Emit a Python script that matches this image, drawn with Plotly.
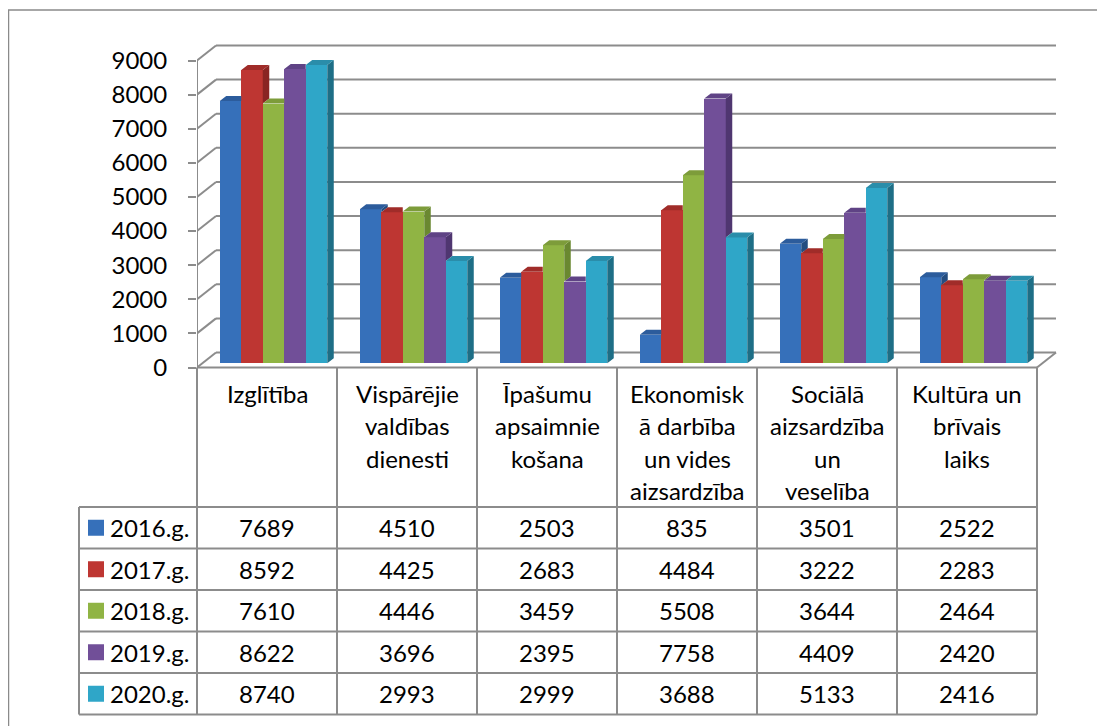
import plotly.graph_objects as go

# ---------------- data ----------------
categories = [
    "Izglītība",
    "Vispārējie<br>valdības<br>dienesti",
    "Īpašumu<br>apsaimnie<br>košana",
    "Ekonomisk<br>ā darbība<br>un vides<br>aizsardzība",
    "Sociālā<br>aizsardzība<br>un<br>veselība",
    "Kultūra un<br>brīvais<br>laiks",
]
series_names = ["2016.g.", "2017.g.", "2018.g.", "2019.g.", "2020.g."]
v2016 = [7689, 4510, 2503, 835, 3501, 2522]
v2017 = [8592, 4425, 2683, 4484, 3222, 2283]
v2018 = [7610, 4446, 3459, 5508, 3644, 2464]
v2019 = [8622, 3696, 2395, 7758, 4409, 2420]
v2020 = [8740, 2993, 2999, 3688, 5133, 2416]
series_values = [v2016, v2017, v2018, v2019, v2020]
y_ticks = [0, 1000, 2000, 3000, 4000, 5000, 6000, 7000, 8000, 9000]

# ---------------- styling / geometry ----------------
front_colors = ["#3670BA", "#BE3632", "#90B444", "#714F98", "#2FA6C8"]
side_colors = ["#244D80", "#8A2523", "#6A8830", "#4F3670", "#1E6E86"]
top_colors = ["#2C5C9C", "#A02C29", "#7D9C3A", "#5F4385", "#2A8DAA"]

OFF = 8                       # page body margin
W, H = 1105 - OFF, 726 - OFF  # figure size
AX = 197                      # page px of front axis
ML = AX - OFF                 # plot area left edge in figure px
XPX = 140.0                   # px per category
Y0PX = 367.5 - OFF            # figure px of value 0
YS = 307.0 / 9000.0           # px per value unit
x_range = [-0.5, -0.5 + (W - ML) / XPX]
y_range = [-(H - Y0PX) / YS, Y0PX / YS]

DX = 19 / XPX                 # full depth offset (x)
DY = 15 / YS                  # full depth offset (y)
B = 4.3 / YS                  # bar front face base lift
BW = 21.5 / XPX               # bar width
BOFF = 6.5 / XPX              # group shift due to depth
ddx = 6.5 / XPX               # bar depth (x)
ddy = 5.0 / YS                # bar depth (y)

GRID = "#8C8C8C"
FONT = "Lato"
FS = 24


def pxx(px):
    """page px -> paper x"""
    return (px - OFF - ML) / (W - ML)


def pxy(py):
    """page px -> paper y"""
    return 1 - (py - OFF) / H


fig = go.Figure()

n_cat = len(categories)
n_ser = len(series_names)
offsets = [(k - (n_ser - 1) / 2) * BW + BOFF for k in range(n_ser)]

# front faces
for k in range(n_ser):
    fig.add_trace(go.Bar(
        x=[i + offsets[k] for i in range(n_cat)],
        y=series_values[k],
        base=B,
        width=BW,
        name=series_names[k],
        marker=dict(color=front_colors[k], line=dict(width=0)),
        hoverinfo="y+name",
    ))

# side and top faces (3D effect)
for k in range(n_ser):
    sx, sy, tx, ty = [], [], [], []
    for i in range(n_cat):
        v = series_values[k][i]
        x0 = i + offsets[k] - BW / 2
        x1 = i + offsets[k] + BW / 2
        nxt = series_values[k + 1][i] if k < n_ser - 1 else 0
        lo = nxt if k < n_ser - 1 else 0
        if v > lo:
            sx += [x1, x1 + ddx, x1 + ddx, x1, x1, None]
            sy += [B + lo, B + lo + ddy, B + v + ddy, B + v, B + lo, None]
        if k < n_ser - 1 and nxt > v:
            tx += [x0, x1, x1, x0 + ddx, x0, None]
            ty += [B + v, B + v, B + v + ddy, B + v + ddy, B + v, None]
        else:
            tx += [x0, x1, x1 + ddx, x0 + ddx, x0, None]
            ty += [B + v, B + v, B + v + ddy, B + v + ddy, B + v, None]
    fig.add_trace(go.Scatter(x=sx, y=sy, mode="lines", fill="toself",
                             fillcolor=side_colors[k], line=dict(width=0),
                             hoverinfo="skip", showlegend=False))
    fig.add_trace(go.Scatter(x=tx, y=ty, mode="lines", fill="toself",
                             fillcolor=top_colors[k], line=dict(width=0),
                             hoverinfo="skip", showlegend=False))

shapes = []
# back wall gridlines + left wall diagonals
for v in y_ticks:
    shapes.append(dict(type="line", xref="x", yref="y", layer="below",
                       x0=-0.5 + DX, y0=v + DY, x1=n_cat - 0.5 + DX, y1=v + DY,
                       line=dict(color=GRID, width=2)))
    shapes.append(dict(type="line", xref="x", yref="y", layer="below",
                       x0=-0.5, y0=v, x1=-0.5 + DX, y1=v + DY,
                       line=dict(color=GRID, width=2)))
# right floor edge
shapes.append(dict(type="line", xref="x", yref="y", layer="below",
                   x0=n_cat - 0.5, y0=0, x1=n_cat - 0.5 + DX, y1=DY,
                   line=dict(color=GRID, width=2)))
# front vertical axis line
shapes.append(dict(type="line", xref="x", yref="y", layer="below",
                   x0=-0.5, y0=0, x1=-0.5, y1=max(y_ticks),
                   line=dict(color=GRID, width=2)))

# data table grid (page px)
T_TOP = 367.5
ROW0 = 507
ROWH = 41.5
T_BOT = ROW0 + ROWH * n_ser
COL0 = AX
COLW = XPX
LEFT = 79
for j in range(n_cat + 1):
    xp = COL0 + COLW * j
    shapes.append(dict(type="line", xref="paper", yref="paper",
                       x0=pxx(xp), x1=pxx(xp), y0=pxy(T_TOP), y1=pxy(T_BOT),
                       line=dict(color=GRID, width=2)))
shapes.append(dict(type="line", xref="paper", yref="paper",
                   x0=pxx(LEFT), x1=pxx(LEFT), y0=pxy(ROW0), y1=pxy(T_BOT),
                   line=dict(color=GRID, width=2)))
shapes.append(dict(type="line", xref="paper", yref="paper",
                   x0=pxx(COL0), x1=pxx(COL0 + COLW * n_cat), y0=pxy(T_TOP), y1=pxy(T_TOP),
                   line=dict(color=GRID, width=2)))
for r in range(n_ser + 1):
    yp = ROW0 + ROWH * r
    shapes.append(dict(type="line", xref="paper", yref="paper",
                       x0=pxx(LEFT), x1=pxx(COL0 + COLW * n_cat), y0=pxy(yp), y1=pxy(yp),
                       line=dict(color=GRID, width=2)))
# legend keys
for r in range(n_ser):
    cy = ROW0 + ROWH * (r + 0.5)
    shapes.append(dict(type="rect", xref="paper", yref="paper",
                       x0=pxx(88), x1=pxx(104), y0=pxy(cy - 8), y1=pxy(cy + 8),
                       fillcolor=front_colors[r], line=dict(width=0)))
# outer frame
shapes.append(dict(type="line", xref="paper", yref="paper",
                   x0=pxx(8.5), x1=pxx(8.5), y0=pxy(10), y1=pxy(726),
                   line=dict(color="#8A8A8A", width=1.5)))
shapes.append(dict(type="line", xref="paper", yref="paper",
                   x0=pxx(8), x1=pxx(1105), y0=pxy(10), y1=pxy(10),
                   line=dict(color="#8A8A8A", width=1.5)))

annotations = []
font = dict(family=FONT, size=FS, color="black")
for i, cat in enumerate(categories):
    cx = COL0 + COLW * (i + 0.5)
    for j, line in enumerate(cat.split("<br>")):
        annotations.append(dict(xref="paper", yref="paper", x=pxx(cx), y=pxy(393 + 32.5 * j),
                                text=line, showarrow=False, xanchor="center",
                                yanchor="middle", font=font))
for r in range(n_ser):
    cy = ROW0 + ROWH * (r + 0.5)
    annotations.append(dict(xref="paper", yref="paper", x=pxx(108), y=pxy(cy),
                            text=series_names[r], showarrow=False, xanchor="left",
                            yanchor="middle", font=font))
    for i in range(n_cat):
        cx = COL0 + COLW * (i + 0.5)
        annotations.append(dict(xref="paper", yref="paper", x=pxx(cx), y=pxy(cy),
                                text=str(series_values[r][i]), showarrow=False,
                                xanchor="center", yanchor="middle", font=font))

fig.update_layout(
    width=W, height=H, autosize=False,
    margin=dict(l=ML, r=0, t=0, b=0, pad=0),
    paper_bgcolor="white", plot_bgcolor="white",
    barmode="overlay", bargap=0,
    showlegend=False,
    shapes=shapes, annotations=annotations,
    xaxis=dict(range=x_range, visible=False, fixedrange=True),
    yaxis=dict(range=y_range, tickvals=y_ticks, ticktext=[str(t) for t in y_ticks],
               ticks="outside", ticklen=8, tickwidth=2, tickcolor=GRID,
               showgrid=False, zeroline=False, showline=False,
               tickfont=font, ticklabelstandoff=16, automargin=False,
               fixedrange=True),
)

fig.write_html("out.html")
